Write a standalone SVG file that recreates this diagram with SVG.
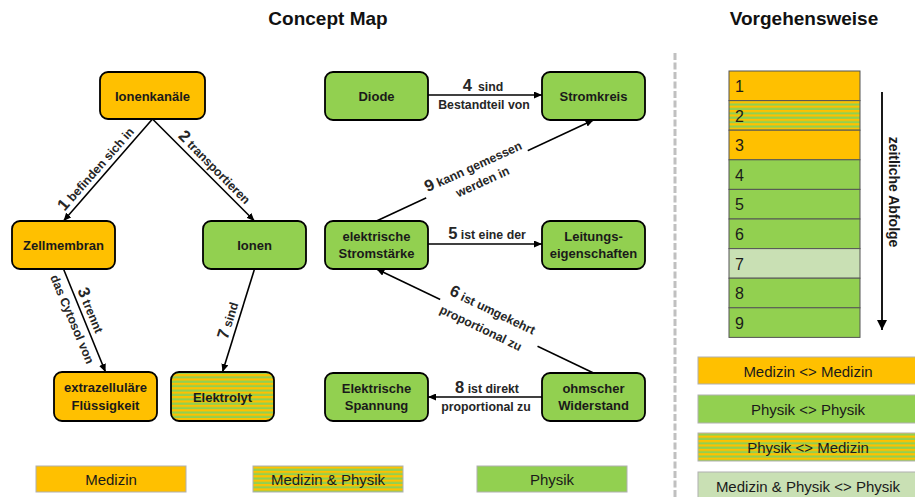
<svg xmlns="http://www.w3.org/2000/svg" width="915" height="497" viewBox="0 0 915 497">
<defs>
<pattern id="stripe" patternUnits="userSpaceOnUse" width="8" height="4.4">
<rect width="8" height="4.4" fill="#FFC000"/>
<rect y="2.2" width="8" height="2.2" fill="#92D050"/>
</pattern>
<marker id="ah" viewBox="0 0 8 7" refX="8" refY="3.5" markerWidth="8" markerHeight="7" markerUnits="userSpaceOnUse" orient="auto">
<path d="M0,0 L8,3.5 L0,7 z" fill="#000"/>
</marker>
<marker id="ahb" viewBox="0 0 10 10" refX="10" refY="5" markerWidth="10" markerHeight="10" markerUnits="userSpaceOnUse" orient="auto">
<path d="M0,0 L10,5 L0,10 z" fill="#000"/>
</marker>
</defs>
<style>
text { font-family: "Liberation Sans", Arial, sans-serif; }
.title { font-size: 19px; font-weight: bold; fill: #111; text-anchor: middle; }
.node rect { stroke: #000; stroke-width: 1.8; }
.med { fill: #FFC000; }
.phy { fill: #92D050; }
.mix { fill: url(#stripe); }
.light { fill: #C9E0B4; }
.nt { font-size: 13px; font-weight: bold; fill: #1a1a1a; text-anchor: middle; }
.el { font-size: 12.3px; font-weight: bold; fill: #262626; text-anchor: middle; }
.n { font-size: 16.5px; }
.conn line { stroke: #000; stroke-width: 1.6; marker-end: url(#ah); }
.lg rect { stroke: #b0b0b0; stroke-width: 1; }
.lt { font-size: 15px; fill: #1a1a1a; text-anchor: middle; }
.row rect { stroke: #555; stroke-width: 1; }
.rn { font-size: 16px; fill: #1a1a1a; }
</style>

<rect width="915" height="497" fill="#fff"/>

<text class="title" x="328" y="25">Concept Map</text>
<text class="title" x="804" y="25">Vorgehensweise</text>

<line x1="675" y1="53" x2="675" y2="497" stroke="#c0c0c0" stroke-width="3" stroke-dasharray="7 2.5"/>

<g id="connectors" class="conn">
<line x1="152.5" y1="119" x2="63.5" y2="221"/>
<line x1="152.5" y1="119" x2="254.5" y2="221"/>
<line x1="63.5" y1="269" x2="105.5" y2="372"/>
<line x1="254.5" y1="269" x2="222.5" y2="372"/>
<line x1="428" y1="95" x2="542" y2="95"/>
<line x1="428" y1="244" x2="542" y2="244"/>
<line x1="376.5" y1="221" x2="593.5" y2="120"/>
<line x1="593.5" y1="373" x2="376.5" y2="269"/>
<line x1="542" y1="397" x2="428" y2="397"/>

<g transform="translate(108,170) rotate(-48.6)">
<text class="el" x="-7" y="-5"><tspan class="n">1</tspan> befinden sich in</text>
</g>
<g transform="translate(203.5,170) rotate(45.3)">
<text class="el" x="6" y="-5"><tspan class="n">2</tspan> transportieren</text>
</g>
<g transform="translate(84.5,320.5) rotate(67.3)">
<text class="el" x="-7" y="-5"><tspan class="n">3</tspan> trennt</text>
<text class="el" x="-6" y="15">das Cytosol von</text>
</g>
<g transform="translate(238.5,320.5) rotate(-73.3)">
<text class="el" x="-3" y="-5"><tspan class="n">7</tspan> sind</text>
</g>
<text class="el" x="483" y="91"><tspan class="n">4</tspan><tspan dx="6">sind</tspan></text>
<text class="el" x="484" y="108.5">Bestandteil von</text>
<text class="el" x="487" y="238.5"><tspan class="n">5</tspan> ist eine der</text>
<text class="el" x="487" y="392.5"><tspan class="n">8</tspan> ist direkt</text>
<text class="el" x="486" y="410.5">proportional zu</text>
<g transform="translate(486,170) rotate(-24.6)">
<rect x="-66" y="-18" width="112" height="36" fill="#fff"/>
<text class="el" x="-10" y="-4"><tspan class="n">9</tspan> kann gemessen</text>
<text class="el" x="-8" y="13.5">werden in</text>
</g>
<g transform="translate(485.5,320.5) rotate(25.6)">
<rect x="-50" y="-22" width="108" height="39" fill="#fff"/>
<text class="el" x="2" y="-7.5"><tspan class="n">6</tspan> ist umgekehrt</text>
<text class="el" x="-1" y="13">proportional zu</text>
</g>
</g>

<g id="ionenkanaele" class="node"><rect class="med" x="100" y="72" width="105" height="47" rx="8"/><text class="nt" x="152.5" y="100.5">Ionenkanäle</text></g>
<g id="zellmembran" class="node"><rect class="med" x="12" y="221" width="103" height="48" rx="8"/><text class="nt" x="63.5" y="250">Zellmembran</text></g>
<g id="ionen" class="node"><rect class="phy" x="203" y="221" width="103" height="48" rx="8"/><text class="nt" x="254.5" y="250">Ionen</text></g>
<g id="extrazellulaer" class="node"><rect class="med" x="54" y="372" width="103" height="49" rx="8"/><text class="nt" x="105.5" y="392">extrazelluläre</text><text class="nt" x="105.5" y="409.5">Flüssigkeit</text></g>
<g id="elektrolyt" class="node"><rect class="mix" x="171" y="372" width="103" height="49" rx="8"/><text class="nt" x="222.5" y="401.5">Elektrolyt</text></g>
<g id="diode" class="node"><rect class="phy" x="325" y="72" width="103" height="48" rx="8"/><text class="nt" x="376.5" y="101">Diode</text></g>
<g id="stromkreis" class="node"><rect class="phy" x="542" y="72" width="103" height="48" rx="8"/><text class="nt" x="593.5" y="101">Stromkreis</text></g>
<g id="stromstaerke" class="node"><rect class="phy" x="325" y="221" width="103" height="48" rx="8"/><text class="nt" x="376.5" y="241">elektrische</text><text class="nt" x="376.5" y="258">Stromstärke</text></g>
<g id="leitung" class="node"><rect class="phy" x="542" y="221" width="103" height="48" rx="8"/><text class="nt" x="593.5" y="241">Leitungs-</text><text class="nt" x="593.5" y="258">eigenschaften</text></g>
<g id="spannung" class="node"><rect class="phy" x="325" y="373" width="103" height="48" rx="8"/><text class="nt" x="376.5" y="393">Elektrische</text><text class="nt" x="376.5" y="410">Spannung</text></g>
<g id="widerstand" class="node"><rect class="phy" x="542" y="373" width="103" height="48" rx="8"/><text class="nt" x="593.5" y="393">ohmscher</text><text class="nt" x="593.5" y="410">Widerstand</text></g>

<g id="legend-bottom" class="lg">
<rect class="med" x="36" y="466" width="150" height="26"/><text class="lt" x="111" y="484.5">Medizin</text>
<rect class="mix" x="253" y="466" width="150" height="26"/><text class="lt" x="328" y="484.5">Medizin &amp; Physik</text>
<rect class="phy" x="477" y="466" width="150" height="26"/><text class="lt" x="552" y="484.5">Physik</text>
</g>

<g id="sequence" class="row">
<rect class="med" x="729" y="71" width="131" height="29.6"/>
<rect class="mix" x="729" y="100.6" width="131" height="29.6"/>
<rect class="med" x="729" y="130.2" width="131" height="29.6"/>
<rect class="phy" x="729" y="159.8" width="131" height="29.6"/>
<rect class="phy" x="729" y="189.4" width="131" height="29.6"/>
<rect class="phy" x="729" y="219" width="131" height="29.6"/>
<rect class="light" x="729" y="248.6" width="131" height="29.6"/>
<rect class="phy" x="729" y="278.2" width="131" height="29.6"/>
<rect class="phy" x="729" y="307.8" width="131" height="29.6"/>
<text class="rn" x="735" y="92">1</text>
<text class="rn" x="735" y="121.6">2</text>
<text class="rn" x="735" y="151.2">3</text>
<text class="rn" x="735" y="180.8">4</text>
<text class="rn" x="735" y="210.4">5</text>
<text class="rn" x="735" y="240">6</text>
<text class="rn" x="735" y="269.6">7</text>
<text class="rn" x="735" y="299.2">8</text>
<text class="rn" x="735" y="328.8">9</text>
</g>

<g id="timeline">
<line x1="882" y1="92" x2="882" y2="330" stroke="#000" stroke-width="1.8" marker-end="url(#ahb)"/>
<text x="0" y="0" transform="translate(889,192) rotate(90)" font-size="14" font-weight="bold" fill="#1a1a1a" text-anchor="middle">zeitliche Abfolge</text>
</g>

<g id="legend-right" class="lg">
<rect class="med" x="698" y="357" width="220" height="27"/><text class="lt" x="808" y="376.5">Medizin &lt;&gt; Medizin</text>
<rect class="phy" x="698" y="395" width="220" height="28"/><text class="lt" x="808" y="414.5">Physik &lt;&gt; Physik</text>
<rect class="mix" x="698" y="433" width="220" height="28"/><text class="lt" x="808" y="452.5">Physik &lt;&gt; Medizin</text>
<rect class="light" x="698" y="472" width="220" height="28"/><text class="lt" x="808" y="491.5">Medizin &amp; Physik &lt;&gt; Physik</text>
</g>
</svg>
